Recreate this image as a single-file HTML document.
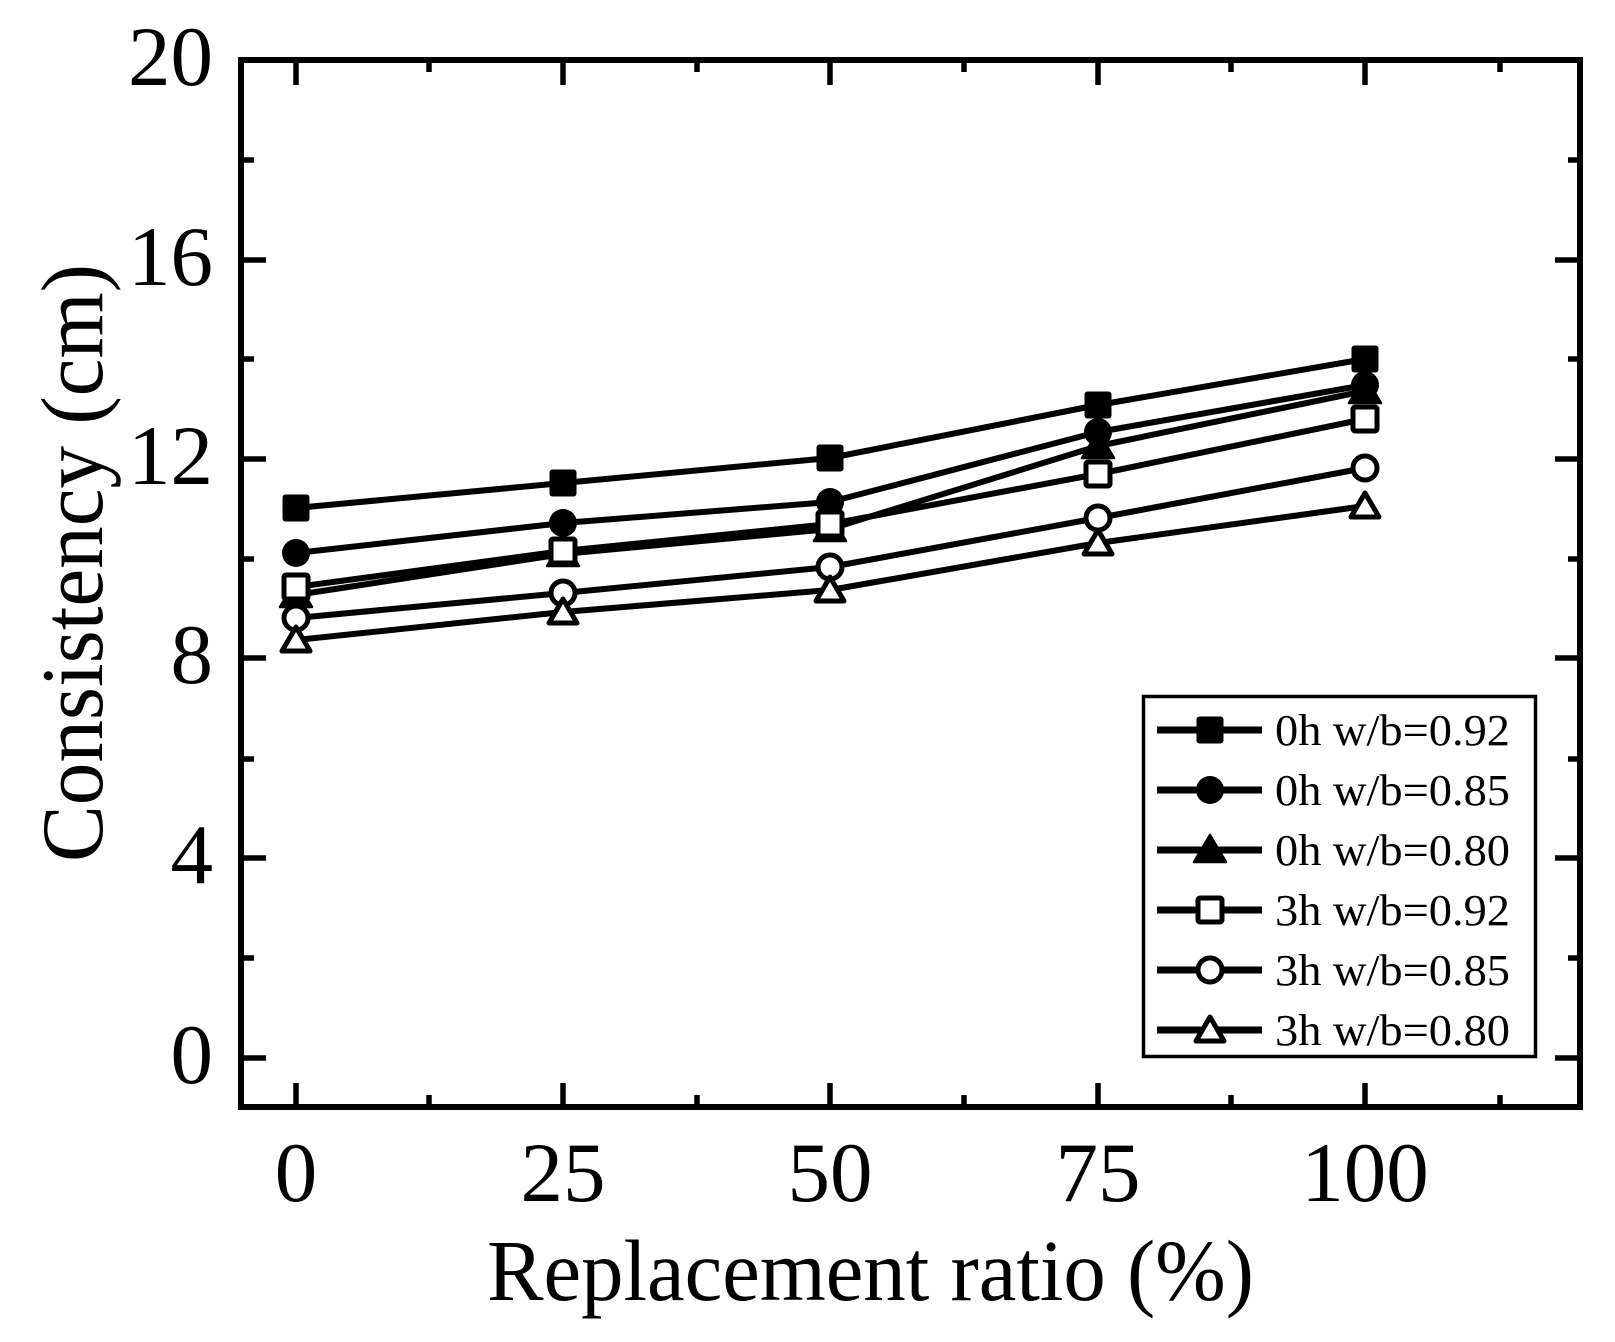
<!DOCTYPE html>
<html><head><meta charset="utf-8"><style>
html,body{margin:0;padding:0;background:#fff;}
svg{display:block;}
text{font-family:"Liberation Serif","Times New Roman",serif;fill:#000;}
</style></head><body>
<svg width="1615" height="1342" viewBox="0 0 1615 1342" xmlns="http://www.w3.org/2000/svg" font-family="Liberation Serif, Times New Roman, serif">
<rect width="1615" height="1342" fill="#fff"/>
<defs>
<rect id="sq" x="-13.5" y="-13.5" width="27" height="27" rx="3"/>
</defs>
<g stroke="#000" stroke-width="5.5" fill="none">
<path d="M241 1058H266M241 858H266M241 658H266M241 459H266M241 260H266"/>
<path d="M241 958H254M241 759H254M241 559H254M241 359H254M241 160H254"/>
<path d="M1580 1058H1555M1580 858H1555M1580 658H1555M1580 459H1555M1580 260H1555"/>
<path d="M1580 958H1568M1580 759H1568M1580 559H1568M1580 359H1568M1580 160H1568"/>
<path d="M296 1107V1083M563 1107V1083M830 1107V1083M1098 1107V1083M1365 1107V1083"/>
<path d="M429 1107V1095M697 1107V1095M964 1107V1095M1231 1107V1095M1500 1107V1095"/>
<path d="M296 60V85M563 60V85M830 60V85M1098 60V85M1365 60V85"/>
<path d="M429 60V72M697 60V72M964 60V72M1231 60V72M1500 60V72"/>
</g>
<rect x="241" y="60" width="1339" height="1047" fill="none" stroke="#000" stroke-width="6"/>

<g font-size="85" text-anchor="end">
<text x="213" y="85">20</text>
<text x="213" y="285">16</text>
<text x="213" y="484">12</text>
<text x="213" y="683">8</text>
<text x="213" y="883">4</text>
<text x="213" y="1083">0</text>
</g>
<g font-size="85" text-anchor="middle">
<text x="296" y="1201">0</text>
<text x="563" y="1201">25</text>
<text x="830" y="1201">50</text>
<text x="1098" y="1201">75</text>
<text x="1365" y="1201">100</text>
</g>
<text x="487" y="1300" font-size="87" textLength="767" lengthAdjust="spacingAndGlyphs">Replacement ratio (%)</text>
<text transform="translate(102,563) rotate(-90)" x="0" y="0" font-size="88" text-anchor="middle" textLength="598" lengthAdjust="spacingAndGlyphs">Consistency (cm)</text>

<polyline points="296,508 563,483 830,458 1098,405 1365,359" stroke="#000" stroke-width="6" fill="none" stroke-linejoin="round"/>
<g fill="#000">
<use href="#sq" x="296" y="508"/><use href="#sq" x="563" y="483"/><use href="#sq" x="830" y="458"/><use href="#sq" x="1098" y="405"/><use href="#sq" x="1365" y="359"/>
</g>
<polyline points="296,553 563,523 830,502 1098,432 1365,385" stroke="#000" stroke-width="6" fill="none" stroke-linejoin="round"/>
<g fill="#000">
<circle cx="296" cy="553" r="14"/><circle cx="563" cy="523" r="14"/><circle cx="830" cy="502" r="14"/><circle cx="1098" cy="432" r="14"/><circle cx="1365" cy="385" r="14"/>
</g>
<polyline points="296,595 563,554 830,529 1098,446 1365,391" stroke="#000" stroke-width="6" fill="none" stroke-linejoin="round"/>
<g fill="#000" stroke="#000" stroke-width="2.5" stroke-linejoin="round">
<path d="M296 580L280 607H312Z"/><path d="M563 539L547 566H579Z"/><path d="M830 514L814 541H846Z"/><path d="M1098 431L1082 458H1114Z"/><path d="M1365 376L1349 403H1381Z"/>
</g>
<polyline points="296,587 563,551 830,524 1098,474 1365,419" stroke="#000" stroke-width="6" fill="none" stroke-linejoin="round"/>
<g fill="#fff" stroke="#000" stroke-width="5">
<rect x="284" y="575" width="24" height="24" rx="2"/><rect x="551" y="539" width="24" height="24" rx="2"/><rect x="818" y="512" width="24" height="24" rx="2"/><rect x="1086" y="462" width="24" height="24" rx="2"/><rect x="1353" y="407" width="24" height="24" rx="2"/>
</g>
<polyline points="296,618 563,593 830,567 1098,518 1365,468" stroke="#000" stroke-width="6" fill="none" stroke-linejoin="round"/>
<g fill="#fff" stroke="#000" stroke-width="5">
<circle cx="296" cy="618" r="12"/><circle cx="563" cy="593" r="12"/><circle cx="830" cy="567" r="12"/><circle cx="1098" cy="518" r="12"/><circle cx="1365" cy="468" r="12"/>
</g>
<polyline points="296,640 563,612 830,590 1098,543 1365,506" stroke="#000" stroke-width="6" fill="none" stroke-linejoin="round"/>
<g fill="#fff" stroke="#000" stroke-width="5" stroke-linejoin="round">
<path d="M296 627L282 651H310Z"/><path d="M563 599L549 623H577Z"/><path d="M830 577L816 601H844Z"/><path d="M1098 530L1084 554H1112Z"/><path d="M1365 493L1351 517H1379Z"/>
</g>

<rect x="1143.5" y="696.5" width="392" height="360" fill="#fff" stroke="#000" stroke-width="3.5"/>
<g stroke="#000" stroke-width="7">
<path d="M1157 730H1262M1157 790H1262M1157 850H1262M1157 910H1262M1157 970H1262M1157 1030H1262"/>
</g>
<use href="#sq" x="1210" y="730" fill="#000"/>
<circle cx="1210" cy="790" r="14" fill="#000"/>
<path d="M1210 835L1194 862H1226Z" fill="#000" stroke="#000" stroke-width="2.5" stroke-linejoin="round"/>
<rect x="1198" y="898" width="24" height="24" rx="2" fill="#fff" stroke="#000" stroke-width="5"/>
<circle cx="1210" cy="970" r="12" fill="#fff" stroke="#000" stroke-width="5"/>
<path d="M1210 1017L1196 1041H1224Z" fill="#fff" stroke="#000" stroke-width="5" stroke-linejoin="round"/>
<g font-size="44">
<text x="1275" y="745" textLength="235" lengthAdjust="spacingAndGlyphs">0h w/b=0.92</text>
<text x="1275" y="805" textLength="235" lengthAdjust="spacingAndGlyphs">0h w/b=0.85</text>
<text x="1275" y="865" textLength="235" lengthAdjust="spacingAndGlyphs">0h w/b=0.80</text>
<text x="1275" y="925" textLength="235" lengthAdjust="spacingAndGlyphs">3h w/b=0.92</text>
<text x="1275" y="985" textLength="235" lengthAdjust="spacingAndGlyphs">3h w/b=0.85</text>
<text x="1275" y="1045" textLength="235" lengthAdjust="spacingAndGlyphs">3h w/b=0.80</text>
</g>
</svg>
</body></html>
